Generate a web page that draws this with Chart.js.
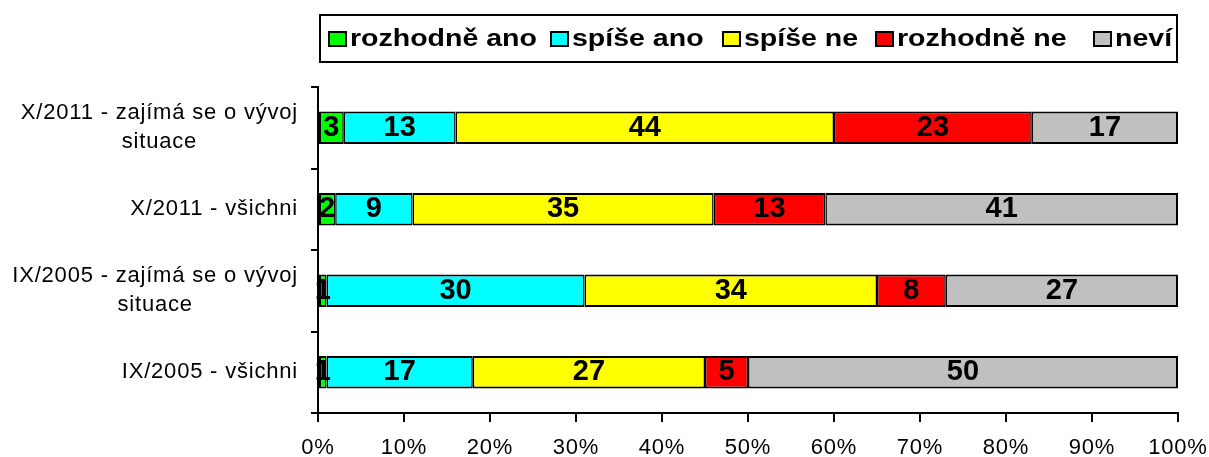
<!DOCTYPE html>
<html lang="cs">
<head>
<meta charset="UTF-8">
<title>Zájem o vývoj situace</title>
<script src="https://cdn.jsdelivr.net/npm/chart.js"></script>
<style>
    html, body { margin: 0; padding: 0; background: #fff; }
    .wrap { position: relative; width: 1209px; height: 457px; overflow: hidden; }
    canvas { position: absolute; left: 0; top: 0; }
    #legend {
        position: absolute; left: 319px; top: 14px;
        width: 855px; height: 45px;
        border: 2px solid #000;
        font: bold 23px "Liberation Sans", Arial, sans-serif;
        color: #000;
    }
    .item { position: absolute; top: 0; height: 45px; display: flex; align-items: center; }
    .swatch { width: 15px; height: 12px; border: 2px solid #000; flex: none; }
    .txt { margin-left: 3px; white-space: nowrap; transform: scaleX(1.24); transform-origin: left center; }
</style>
</head>
<body>
<div class="wrap">
    <canvas id="chart" width="1209" height="457"></canvas>
    <div id="legend"></div>
</div>
<script>
// data
const categories = [
    ['X/2011 - zajímá se o vývoj', 'situace'],
    'X/2011 - všichni',
    ['IX/2005 - zajímá se o vývoj', 'situace'],
    'IX/2005 - všichni'
];
const seriesNames = ['rozhodně ano', 'spíše ano', 'spíše ne', 'rozhodně ne', 'neví'];
const rozhodneAno = [3, 2, 1, 1];
const spiseAno = [13, 9, 30, 17];
const spiseNe = [44, 35, 34, 27];
const rozhodneNe = [23, 13, 8, 5];
const nevi = [17, 41, 27, 50];
const tickLabels = ['0%', '10%', '20%', '30%', '40%', '50%', '60%', '70%', '80%', '90%', '100%'];

const colors = ['#00FF00', '#00FFFF', '#FFFF00', '#FF0000', '#C0C0C0'];
const legendLeft = [7, 229, 401, 554, 772];   // x of each legend swatch inside the box
const FONT = '"Liberation Sans", Arial, sans-serif';

// legend (html)
const legendEl = document.getElementById('legend');
seriesNames.forEach((name, i) => {
    const item = document.createElement('div');
    item.className = 'item';
    item.style.left = legendLeft[i] + 'px';
    item.innerHTML = '<span class="swatch" style="background:' + colors[i] + '"></span><span class="txt">' + name + '</span>';
    legendEl.appendChild(item);
});

const allSeries = [rozhodneAno, spiseAno, spiseNe, rozhodneNe, nevi];
const datasets = allSeries.map((values, i) => ({
    label: seriesNames[i],
    data: values,
    backgroundColor: colors[i],
    borderColor: '#000',
    borderWidth: { top: 2, bottom: 2, left: i === 0 ? 2 : 1.5, right: i === allSeries.length - 1 ? 2 : 1.5 },
    borderSkipped: false,
    barPercentage: 0.4,
    categoryPercentage: 1
}));

// numbers inside the segments
const valueLabels = {
    id: 'valueLabels',
    afterDatasetsDraw(chart) {
        const ctx = chart.ctx;
        ctx.save();
        ctx.letterSpacing = '0px';
        ctx.font = 'bold 29px ' + FONT;
        ctx.fillStyle = '#000';
        ctx.textAlign = 'center';
        ctx.textBaseline = 'middle';
        chart.data.datasets.forEach((ds, i) => {
            chart.getDatasetMeta(i).data.forEach((bar, j) => {
                const p = bar.getCenterPoint();
                ctx.fillText(String(ds.data[j]), p.x, p.y);
            });
        });
        ctx.restore();
    }
};

// category labels: block right aligned to the axis, lines centred within the block
const categoryLabels = {
    id: 'categoryLabels',
    beforeDraw(chart) {
        chart.ctx.letterSpacing = '0.8px';
    },
    afterDraw(chart) {
        const ctx = chart.ctx;
        const scale = chart.scales.y;
        ctx.save();
        ctx.font = '22px ' + FONT;
        ctx.letterSpacing = '0.8px';
        ctx.fillStyle = '#000';
        ctx.textAlign = 'center';
        ctx.textBaseline = 'middle';
        const right = 298;
        const lineH = 29;
        categories.forEach((lab, i) => {
            const lines = Array.isArray(lab) ? lab : [lab];
            const widest = Math.max(...lines.map(l => ctx.measureText(l).width));
            const cx = right - widest / 2;
            const cy = scale.getPixelForValue(i);
            lines.forEach((l, k) => {
                ctx.fillText(l, cx, cy + (k - (lines.length - 1) / 2) * lineH);
            });
        });
        ctx.restore();
    }
};

new Chart(document.getElementById('chart'), {
    type: 'bar',
    data: { labels: categories, datasets: datasets },
    options: {
        indexAxis: 'y',
        responsive: false,
        animation: false,
        layout: { padding: { top: 87, right: 31, left: 0, bottom: 0 } },
        plugins: {
            legend: { display: false },
            title: { display: false },
            tooltip: { enabled: false }
        },
        scales: {
            x: {
                stacked: true,
                min: 0,
                max: 100,
                ticks: {
                    stepSize: 10,
                    color: '#000',
                    font: { family: FONT, size: 22 },
                    padding: 13,
                    maxRotation: 0,
                    callback: (v, i) => tickLabels[i]
                },
                grid: { drawOnChartArea: false, drawTicks: true, tickLength: 9, color: '#000', lineWidth: 2 },
                border: { display: true, color: '#000', width: 2 },
                afterFit: s => { s.height = 44; s.paddingLeft = 0; s.paddingRight = 0; }
            },
            y: {
                stacked: true,
                ticks: { display: false },
                grid: { drawOnChartArea: false, drawTicks: true, tickLength: 7, color: '#000', lineWidth: 2, offset: true },
                border: { display: true, color: '#000', width: 2 },
                afterFit: s => { s.width = 318; }
            }
        }
    },
    plugins: [valueLabels, categoryLabels]
});
</script>
</body>
</html>
